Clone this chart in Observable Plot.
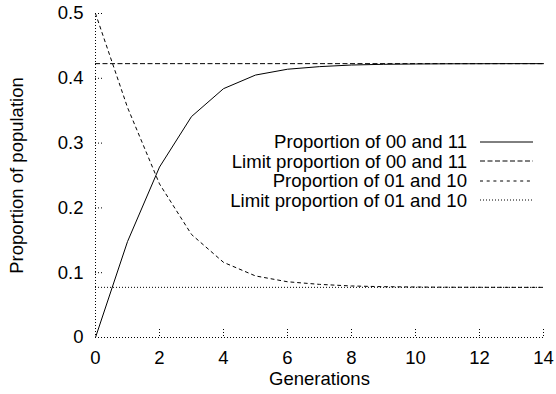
<!DOCTYPE html>
<html><head><meta charset="utf-8">
<script src="https://cdn.jsdelivr.net/npm/d3@7"></script>
<script src="https://cdn.jsdelivr.net/npm/@observablehq/plot@0.6"></script>
<style>
body{margin:0;background:#fff;}
#wrap{position:relative;width:556px;height:394px;font-family:"Liberation Sans",Arial,sans-serif;color:#000;}
#legend{position:absolute;right:23px;top:132px;font-size:18.6px;line-height:19.5px;}
#legend .row{display:flex;align-items:center;justify-content:flex-end;height:19.5px;}
#legend svg{margin-left:13px;display:block;}
</style></head><body><div id="wrap"></div>
<script>
const generations = [0,1,2,3,4,5,6,7,8,9,10,11,12,13,14];
const prop0011 = [0,0.148,0.263,0.341,0.384,0.405,0.414,0.418,0.4205,0.4216,0.4221,0.4224,0.4225,0.4226,0.4226];
const prop0110 = [0.5,0.355,0.237,0.159,0.116,0.095,0.086,0.082,0.0795,0.0784,0.0779,0.0776,0.0775,0.0774,0.0774];
const limit0011 = 0.4226;
const limit0110 = 0.0774;
const xTicks = [0,2,4,6,8,10,12,14];
const yTicks = [0,0.1,0.2,0.3,0.4,0.5];
const yTickLabels = ["0","0.1","0.2","0.3","0.4","0.5"];
const seriesNames = ["Proportion of 00 and 11","Limit proportion of 00 and 11","Proportion of 01 and 10","Limit proportion of 01 and 10"];
const seriesDash = ["none","5,2.5","3,3.7","1,2"];
const xLabel = "Generations";
const yLabel = "Proportion of population";

const rows = generations.map((g,i)=>({g, a: prop0011[i], b: prop0110[i]}));
const W = 556, H = 394, mL = 95, mR = 13, mT = 13, mB = 57;
const pw = W - mL - mR, ph = H - mT - mB;

const plot = Plot.plot({
  width: W, height: H,
  marginLeft: mL, marginRight: mR, marginTop: mT, marginBottom: mB,
  style: {fontFamily: "'Liberation Sans', Arial, sans-serif", fontSize: "18.5px", color: "#000", background: "#fff", overflow: "visible"},
  x: {domain: [0, 14]},
  y: {domain: [0, 0.5]},
  marks: [
    Plot.ruleX([0], {stroke: "#000", strokeWidth: 1, strokeDasharray: "1,2"}),
    Plot.ruleY([0], {stroke: "#000", strokeWidth: 1, strokeDasharray: "1,2"}),
    Plot.tickX(xTicks.slice(1), {x: d => d, insetTop: ph - 8, stroke: "#000", strokeDasharray: "1,2"}),
    Plot.tickY(yTicks.slice(1), {y: d => d, insetRight: pw - 8, stroke: "#000", strokeDasharray: "1,2"}),
    Plot.axisX(xTicks, {tickSize: 0, tickPadding: 13, label: null}),
    Plot.axisY(yTicks, {tickSize: 0, tickPadding: 12, label: null, tickFormat: (d, i) => yTickLabels[yTicks.indexOf(d)]}),
    Plot.ruleY([limit0011], {stroke: "#000", strokeWidth: 1, strokeDasharray: seriesDash[1]}),
    Plot.ruleY([limit0110], {stroke: "#000", strokeWidth: 1, strokeDasharray: seriesDash[3]}),
    Plot.line(rows, {x: "g", y: "a", stroke: "#000", strokeWidth: 1}),
    Plot.line(rows, {x: "g", y: "b", stroke: "#000", strokeWidth: 1, strokeDasharray: seriesDash[2]}),
    Plot.text([xLabel], {text: d => d, frameAnchor: "bottom", dy: 47, fill: "#000", fontSize: 18.5}),
    Plot.text([yLabel], {text: d => d, frameAnchor: "left", textAnchor: "middle", dx: -78, rotate: -90, fill: "#000", fontSize: 18.5})
  ]
});
const wrap = document.getElementById("wrap");
wrap.appendChild(plot);

const legend = document.createElement("div");
legend.id = "legend";
seriesNames.forEach((name, i) => {
  const row = document.createElement("div");
  row.className = "row";
  const span = document.createElement("span");
  span.textContent = name;
  row.appendChild(span);
  const svg = d3.create("svg").attr("width", 53).attr("height", 4);
  svg.append("line").attr("x1", 0).attr("x2", 53).attr("y1", 2).attr("y2", 2)
    .attr("stroke", "#000").attr("stroke-width", 1)
    .attr("stroke-dasharray", seriesDash[i] === "none" ? null : seriesDash[i]);
  row.appendChild(svg.node());
  legend.appendChild(row);
});
wrap.appendChild(legend);
</script>
</body></html>
